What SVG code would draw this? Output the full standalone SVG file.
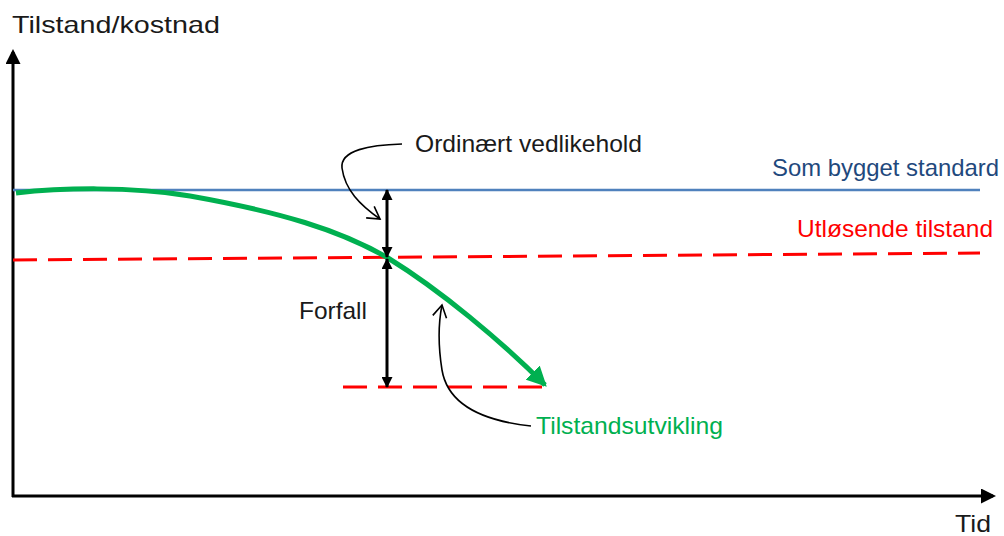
<svg xmlns="http://www.w3.org/2000/svg" width="1004" height="536" viewBox="0 0 1004 536">
<style>
text{font-family:"Liberation Sans",Arial,sans-serif;font-size:24px;fill:#1a1a1a}
.ax{stroke:#000;stroke-width:3;fill:none}
.red{stroke:#FF0000;stroke-width:3;fill:none;stroke-dasharray:24 11}
.call{stroke:#000;stroke-width:1.6;fill:none}
</style>
<defs>
<marker id="ah" markerWidth="5" markerHeight="5" refX="4" refY="2.5" orient="auto" markerUnits="strokeWidth"><path d="M0,0 L5,2.5 L0,5 Z" fill="#000"/></marker>
<marker id="dh" markerWidth="11" markerHeight="11" refX="10" refY="5.5" orient="auto-start-reverse" markerUnits="userSpaceOnUse"><path d="M0,0 L11,5.5 L0,11 Z" fill="#000"/></marker>
<marker id="gh" markerWidth="4" markerHeight="4" refX="3.5" refY="2" orient="auto" markerUnits="strokeWidth"><path d="M0,0 L4,2 L0,4 Z" fill="#00B050"/></marker>
<marker id="oh" markerWidth="16" markerHeight="16" refX="13" refY="8" orient="auto" markerUnits="userSpaceOnUse"><path d="M1,1 L13,8 L1,15" fill="none" stroke="#000" stroke-width="1.6"/></marker>
</defs>
<g id="axes">
<line class="ax" x1="13" y1="497" x2="13" y2="52" marker-end="url(#ah)"/>
<line class="ax" x1="12" y1="496" x2="993" y2="496" marker-end="url(#ah)"/>
<text x="12" y="33" font-size="28" textLength="208" lengthAdjust="spacingAndGlyphs">Tilstand/kostnad</text>
<text x="955" y="532" font-size="28" textLength="36" lengthAdjust="spacingAndGlyphs">Tid</text>
</g>
<g id="som-bygget">
<line x1="13" y1="190" x2="980" y2="190" stroke="#4F81BD" stroke-width="2.5"/>
<text x="772" y="176" style="fill:#1F497D" textLength="227" lengthAdjust="spacingAndGlyphs">Som bygget standard</text>
</g>
<g id="utlosende">
<line class="red" x1="13" y1="260" x2="980" y2="253"/>
<text x="797" y="237" style="fill:#FF0000" textLength="196" lengthAdjust="spacingAndGlyphs">Utløsende tilstand</text>
</g>
<g id="bunn">
<line class="red" x1="343" y1="387" x2="550" y2="387"/>
</g>
<g id="tilstandsutvikling">
<path d="M16,193 C60,188 130,186 190,196 C280,212 340,230 388,258 C440,290 500,340 545,385" stroke="#00B050" stroke-width="5" fill="none" marker-end="url(#gh)"/>
<text x="536" y="434" style="fill:#00B050" textLength="187" lengthAdjust="spacingAndGlyphs">Tilstandsutvikling</text>
</g>
<g id="connectors">
<line x1="387" y1="190" x2="387" y2="257" stroke="#000" stroke-width="3" marker-start="url(#dh)" marker-end="url(#dh)"/>
<line x1="387" y1="259" x2="387" y2="387" stroke="#000" stroke-width="3" marker-start="url(#dh)" marker-end="url(#dh)"/>
<path class="call" d="M402,144 C370,145 340,150 342,168 C345,190 360,205 380,219" marker-end="url(#oh)"/>
<path class="call" d="M531,426 C475,420 447,400 442,370 C438,345 438,325 442,305" marker-end="url(#oh)"/>
</g>
<g id="labels">
<text x="415" y="152" textLength="227" lengthAdjust="spacingAndGlyphs">Ordinært vedlikehold</text>
<text x="299" y="319" textLength="68" lengthAdjust="spacingAndGlyphs">Forfall</text>
</g>
</svg>
